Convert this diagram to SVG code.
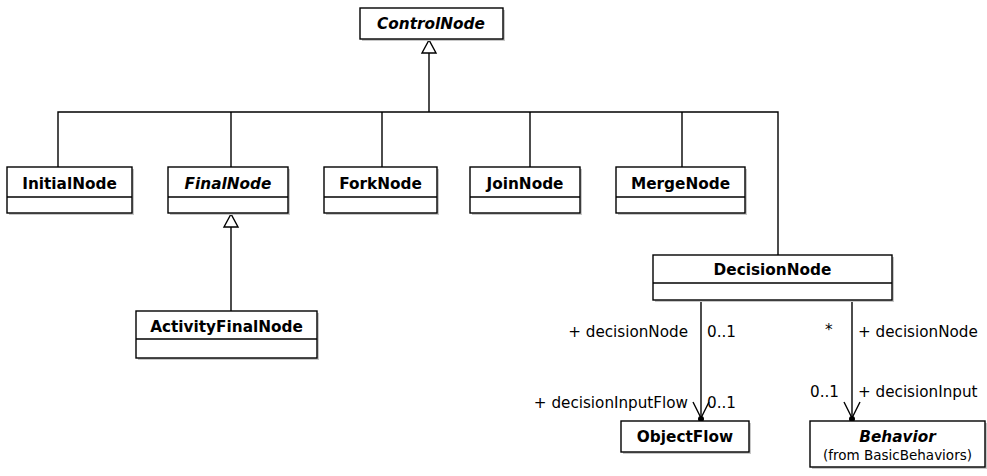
<svg xmlns="http://www.w3.org/2000/svg" width="987" height="476" viewBox="0 0 987 476">
<style>
.box{fill:#fff;stroke:#000;stroke-width:1.4}
.sh{fill:#c8c8c8}
.div{stroke:#000;stroke-width:1.4}
.name{font-family:"DejaVu Sans",Verdana,sans-serif;font-size:15.3px;font-weight:bold;text-anchor:middle;fill:#000}
.it{font-style:italic}
.sub{font-family:"DejaVu Sans",Verdana,sans-serif;font-size:13.5px;text-anchor:middle;fill:#000}
.lbl{font-family:"DejaVu Sans",Verdana,sans-serif;font-size:15.2px;fill:#000}
.ln{fill:none;stroke:#000;stroke-width:1.4}
.tri{fill:#fff;stroke:#000;stroke-width:1.4}
</style>
<rect width="987" height="476" fill="#fff"/>
<g id="connectors">
<polyline class="ln" points="429,53 429,112"/>
<polyline class="ln" points="58,167 58,112 778,112 778,255"/>
<line class="ln" x1="231" y1="112" x2="231" y2="167"/>
<line class="ln" x1="382" y1="112" x2="382" y2="167"/>
<line class="ln" x1="530" y1="112" x2="530" y2="167"/>
<line class="ln" x1="682" y1="112" x2="682" y2="167"/>
<polygon class="tri" points="429,40 422,53 436,53"/>
<line class="ln" x1="231" y1="227" x2="231" y2="311"/>
<polygon class="tri" points="231,214 224,227 238,227"/>
<line class="ln" x1="701" y1="300" x2="701" y2="419"/>
<polyline class="ln" points="693,402 701,418 709,402"/>
<circle cx="701" cy="419" r="3" fill="#000"/>
<line class="ln" x1="852" y1="300" x2="852" y2="419"/>
<polyline class="ln" points="844,402 852,418 860,402"/>
<circle cx="852" cy="419" r="3" fill="#000"/>
<text class="lbl" x="688" y="337" text-anchor="end">+ decisionNode</text>
<text class="lbl" x="707" y="337">0..1</text>
<text class="lbl" x="688" y="408" text-anchor="end">+ decisionInputFlow</text>
<text class="lbl" x="707" y="408">0..1</text>
<text class="lbl" x="825" y="335">*</text>
<text class="lbl" x="858" y="337">+ decisionNode</text>
<text class="lbl" x="839" y="397" text-anchor="end">0..1</text>
<text class="lbl" x="858" y="397">+ decisionInput</text>
</g>
<g id="ControlNode">
<rect class="sh" x="362" y="10" width="143" height="31"/>
<rect class="box" x="360" y="8" width="143" height="31"/>
<text class="name it" x="431" y="29">ControlNode</text>
</g>
<g id="InitialNode">
<rect class="sh" x="9" y="169" width="125" height="46"/>
<rect class="box" x="7" y="167" width="125" height="46"/>
<line class="div" x1="7" y1="197" x2="132" y2="197"/>
<text class="name" x="69.5" y="189">InitialNode</text>
</g>
<g id="FinalNode">
<rect class="sh" x="170" y="169" width="120" height="46"/>
<rect class="box" x="168" y="167" width="120" height="46"/>
<line class="div" x1="168" y1="197" x2="288" y2="197"/>
<text class="name it" x="228" y="189">FinalNode</text>
</g>
<g id="ForkNode">
<rect class="sh" x="326" y="169" width="113" height="46"/>
<rect class="box" x="324" y="167" width="113" height="46"/>
<line class="div" x1="324" y1="197" x2="437" y2="197"/>
<text class="name" x="380.5" y="189">ForkNode</text>
</g>
<g id="JoinNode">
<rect class="sh" x="472" y="169" width="110" height="46"/>
<rect class="box" x="470" y="167" width="110" height="46"/>
<line class="div" x1="470" y1="197" x2="580" y2="197"/>
<text class="name" x="525" y="189">JoinNode</text>
</g>
<g id="MergeNode">
<rect class="sh" x="618" y="169" width="129" height="46"/>
<rect class="box" x="616" y="167" width="129" height="46"/>
<line class="div" x1="616" y1="197" x2="745" y2="197"/>
<text class="name" x="680.5" y="189">MergeNode</text>
</g>
<g id="DecisionNode">
<rect class="sh" x="655" y="257" width="239" height="45"/>
<rect class="box" x="653" y="255" width="239" height="45"/>
<line class="div" x1="653" y1="283" x2="892" y2="283"/>
<text class="name" x="772.5" y="275">DecisionNode</text>
</g>
<g id="ActivityFinalNode">
<rect class="sh" x="138" y="313" width="181" height="47"/>
<rect class="box" x="136" y="311" width="181" height="47"/>
<line class="div" x1="136" y1="339" x2="317" y2="339"/>
<text class="name" x="226.5" y="332">ActivityFinalNode</text>
</g>
<g id="ObjectFlow">
<rect class="sh" x="623" y="423" width="128" height="31"/>
<rect class="box" x="621" y="421" width="128" height="31"/>
<text class="name" x="685" y="442">ObjectFlow</text>
</g>
<g id="Behavior">
<rect class="sh" x="812" y="423" width="175" height="46"/>
<rect class="box" x="810" y="421" width="175" height="46"/>
<text class="name it" x="897.5" y="442">Behavior</text>
<text class="sub" x="897.5" y="460">(from BasicBehaviors)</text>
</g>
</svg>
